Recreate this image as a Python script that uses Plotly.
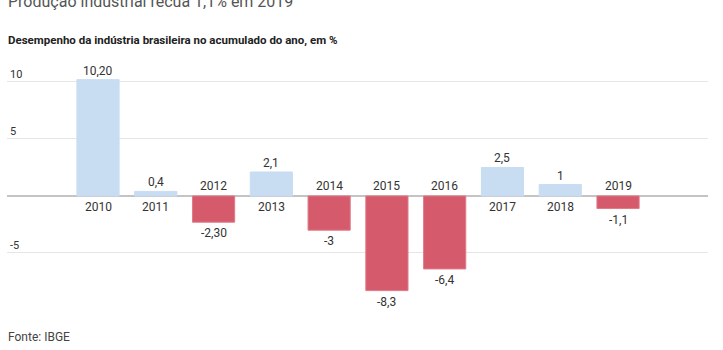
import plotly.graph_objects as go

anos = ["2010", "2011", "2012", "2013", "2014", "2015", "2016", "2017", "2018", "2019"]
valores = [10.2, 0.4, -2.3, 2.1, -3.0, -8.3, -6.4, 2.5, 1.0, -1.1]
rotulos = ["10,20", "0,4", "-2,30", "2,1", "-3", "-8,3", "-6,4", "2,5", "1", "-1,1"]
y_ticks = [-5, 0, 5, 10]
y_tick_labels = ["-5", "", "5", "10"]

AZUL = "#c8dcf2"
VERMELHO = "#d45a6c"
FONT = "Roboto"
TXT = "#333333"

x = list(range(len(anos)))
cores = [AZUL if v >= 0 else VERMELHO for v in valores]
bordas = ["#c8dcf2" if v >= 0 else "#e07a88" for v in valores]

fig = go.Figure()
fig.add_trace(go.Bar(
    x=x, y=valores, marker=dict(color=cores, line=dict(color=bordas, width=1)),
    hoverinfo="skip", showlegend=False,
))

anns = []
for xi, v, ano, rot in zip(x, valores, anos, rotulos):
    if v >= 0:
        anns.append(dict(x=xi, y=v, text=rot, showarrow=False, yanchor="bottom", yshift=0,
                         font=dict(family=FONT, size=12, color=TXT)))
        anns.append(dict(x=xi, y=0, text=ano, showarrow=False, yanchor="top", yshift=-2,
                         font=dict(family=FONT, size=12, color=TXT)))
    else:
        anns.append(dict(x=xi, y=v, text=rot, showarrow=False, yanchor="top", yshift=-2,
                         font=dict(family=FONT, size=12, color=TXT)))
        anns.append(dict(x=xi, y=0, text=ano, showarrow=False, yanchor="bottom", yshift=1,
                         font=dict(family=FONT, size=12, color=TXT)))

anns.append(dict(xref="paper", yref="paper", x=-0.001, y=1.243, xanchor="left", yanchor="middle",
                 text="Produção industrial recua 1,1% em 2019", showarrow=False,
                 font=dict(family=FONT, size=16, color="#555555")))
anns.append(dict(xref="paper", yref="paper", x=-0.001, y=1.089, xanchor="left", yanchor="middle",
                 text="<b>Desempenho da indústria brasileira no acumulado do ano, em %</b>", showarrow=False,
                 font=dict(family=FONT, size=11.5, color="#222222")))
anns.append(dict(xref="paper", yref="paper", x=-0.001, y=-0.109, xanchor="left", yanchor="middle",
                 text="Fonte: IBGE", showarrow=False,
                 font=dict(family=FONT, size=12, color="#444444")))

fig.update_layout(
    width=723, height=350,
    margin=dict(l=7, r=15, t=62, b=40),
    paper_bgcolor="white", plot_bgcolor="white",
    bargap=0.27,
    annotations=anns,
    xaxis=dict(range=[-1.575, 10.557], showticklabels=False, showgrid=False, zeroline=False,
               fixedrange=True),
    yaxis=dict(range=[-10, 11.75], tickvals=y_ticks, ticktext=y_tick_labels,
               ticklabelposition="inside top", showgrid=True, gridcolor="#e6e6e6", gridwidth=1,
               zeroline=True, zerolinecolor="#c4c4c4", zerolinewidth=1.5,
               tickfont=dict(family=FONT, size=11, color=TXT), fixedrange=True),
)

fig.write_html("out.html")
